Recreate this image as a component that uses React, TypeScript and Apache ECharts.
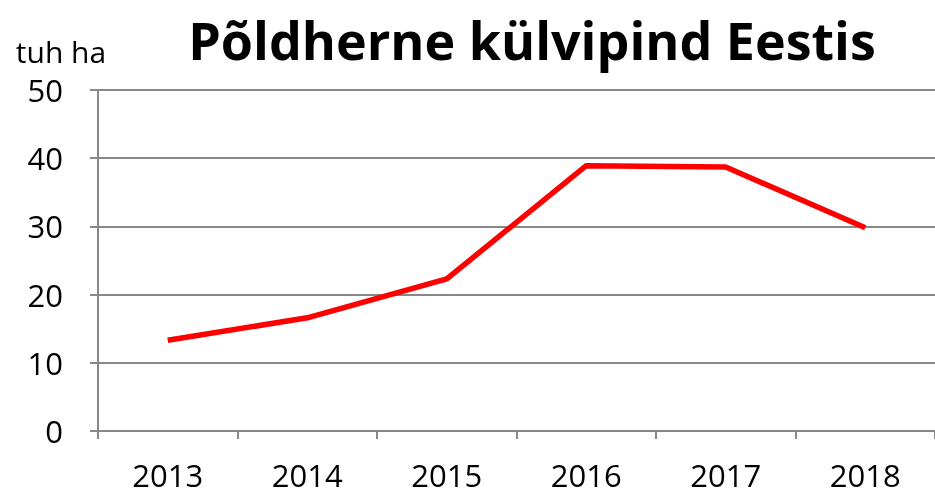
import React, { useEffect, useRef } from "react";
import * as echarts from "echarts";

const years = ["2013", "2014", "2015", "2016", "2017", "2018"];
const area = [13.3, 16.6, 22.3, 38.9, 38.7, 29.8];
const yTicks = { min: 0, max: 50, interval: 10 };
const unitLabel = "tuh ha";
const titleText = "Põldherne külvipind Eestis";

export default function App() {
  const ref = useRef<HTMLDivElement>(null);
  useEffect(() => {
    const chart = echarts.init(ref.current!, null, { renderer: "svg" });
    const font = "Open Sans";
    chart.setOption({
      animation: false,
      title: {
        text: titleText,
        left: 527,
        top: 8,
        textAlign: "center",
        textStyle: { fontFamily: font, fontSize: 52, lineHeight: 52, fontWeight: "bold", color: "#000" },
      },
      graphic: [
        {
          type: "text",
          x: 61,
          y: 51,
          style: {
            text: unitLabel,
            fontFamily: font,
            fontSize: 30,
            lineHeight: 30,
            fill: "#000",
            align: "center",
            verticalAlign: "middle",
          },
        },
      ],
      grid: { left: 98, top: 90, width: 840, height: 341, containLabel: false },
      xAxis: {
        type: "category",
        data: years,
        boundaryGap: true,
        axisLine: { lineStyle: { color: "#888", width: 2 } },
        axisTick: { show: true, length: 8, lineStyle: { color: "#888", width: 2 } },
        axisLabel: { fontFamily: font, fontSize: 31, lineHeight: 31, color: "#000", margin: 28 },
      },
      yAxis: {
        type: "value",
        min: yTicks.min,
        max: yTicks.max,
        interval: yTicks.interval,
        axisLine: { show: true, lineStyle: { color: "#888", width: 2 } },
        axisTick: { show: true, length: 8, lineStyle: { color: "#888", width: 2 } },
        axisLabel: { fontFamily: font, fontSize: 31, lineHeight: 31, color: "#000", margin: 35 },
        splitLine: { lineStyle: { color: "#888", width: 2 } },
      },
      series: [
        {
          type: "line",
          data: area,
          symbol: "none",
          lineStyle: { color: "#ff0000", width: 5.5 },
        },
      ],
    });
    return () => chart.dispose();
  }, []);
  return <div ref={ref} style={{ position: "fixed", left: 0, top: 0, width: 935, height: 494 }} />;
}
